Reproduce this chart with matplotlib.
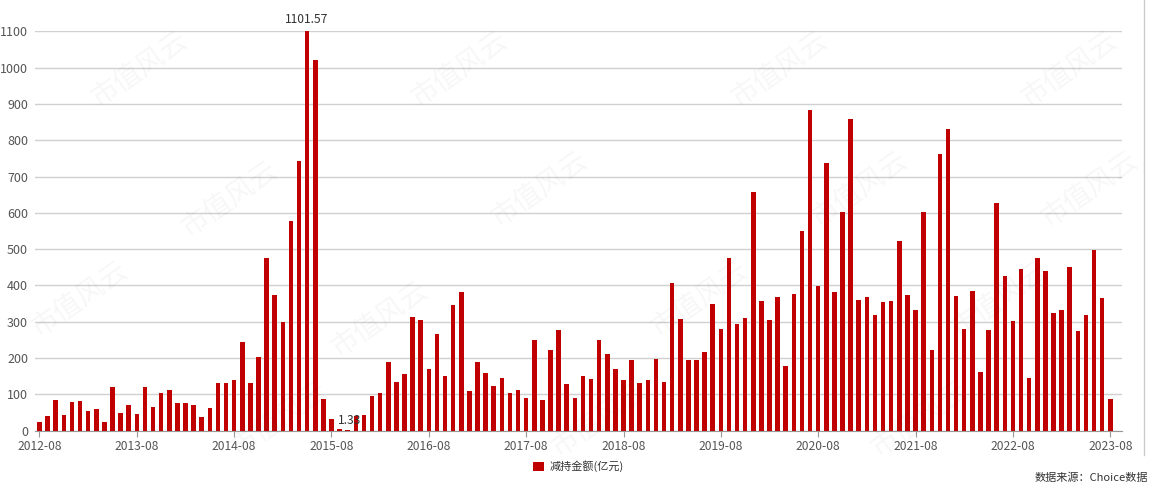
import matplotlib
matplotlib.use("Agg")
import matplotlib.pyplot as plt
from matplotlib.lines import Line2D
import numpy as np

plt.rcParams['font.family'] = ['Noto Sans CJK SC', 'DejaVu Sans']

months = []
for y in range(2012, 2024):
    for m in range(1, 13):
        if (y == 2012 and m < 8) or (y == 2023 and m > 8):
            continue
        months.append(f"{y}-{m:02d}")

values = [
    25, 41, 85, 44, 79, 83, 54, 59, 25, 119, 50, 71,
    45, 119, 64, 103, 113, 77, 75, 72, 39, 62, 132, 130,
    140, 244, 130, 202, 476, 375, 299, 578, 742, 1101.57, 1020, 87,
    33, 6, 1.33, 41, 44, 95, 105, 188, 134, 155, 314, 304,
    169, 265, 152, 347, 381, 108, 190, 159, 123, 144, 104, 113,
    91, 250, 84, 221, 278, 129, 91, 150, 142, 249, 210, 169,
    141, 194, 131, 139, 198, 135, 407, 307, 196, 196, 218, 348,
    279, 477, 294, 311, 658, 357, 306, 368, 177, 377, 551, 884,
    399, 737, 381, 601, 858, 360, 367, 318, 355, 358, 522, 373,
    332, 603, 222, 762, 832, 372, 279, 384, 162, 277, 626, 425,
    302, 444, 146, 477, 441, 325, 333, 450, 274, 320, 499, 365, 88,
]
series_name = "减持金额(亿元)"
source_text = "数据来源：Choice数据"
watermark = "市值风云"
yticks = list(range(0, 1101, 100))

fig = plt.figure(figsize=(11.52, 4.91), dpi=100)
ax = fig.add_axes([35/1152, 1 - 430.7/491, (1122-35)/1152, (430.7-31.3)/491])

x = np.arange(len(values))
ax.bar(x, values, width=0.56, color='#C00000', zorder=3, label=series_name, clip_on=False)

ax.set_xlim(-0.55, len(values) + 0.45)
ax.set_ylim(0, 1100)
ax.set_yticks(yticks)
ax.set_yticklabels([str(v) for v in yticks], fontsize=9, color='#555555')
ax.yaxis.grid(True, color='#d0d0d0', linewidth=1, zorder=0)
ax.tick_params(axis='y', length=0, pad=5)

tick_pos = [i for i, m in enumerate(months) if m.endswith('-08')]
ax.set_xticks(tick_pos)
ax.set_xticklabels([months[i] for i in tick_pos], fontsize=8.7, color='#555555')
ax.tick_params(axis='x', length=4, color='#999999', pad=3)

for s in ['top', 'right', 'left']:
    ax.spines[s].set_visible(False)
ax.spines['bottom'].set_color('#999999')

imax = int(np.argmax(values))
imin = int(np.argmin(values))
ax.text(imax, values[imax] + 12, f"{values[imax]:.2f}", ha='center', va='bottom', fontsize=8.7, color='#333333')
ax.text(imin + 0.2, values[imin] + 8, f"{values[imin]:.2f}", ha='center', va='bottom', fontsize=8.7, color='#333333')

ax.legend(loc='upper center', bbox_to_anchor=(0.5, -0.05), frameon=False, fontsize=8,
          handlelength=1.0, handleheight=0.9, handletextpad=0.5, labelcolor='#333333')

fig.text(1148/1152, 1 - 478/491, source_text, ha='right', va='center', fontsize=8, color='#333333')

wm_pos = [(140, 70), (460, 70), (780, 70), (1070, 70), (230, 200), (540, 190), (860, 190), (1090, 190),
          (80, 300), (380, 320), (700, 300), (1000, 300), (280, 420), (600, 420), (920, 420)]
for (px, py) in wm_pos:
    fig.text(px/1152, 1 - py/491, watermark, fontsize=20, color='#000000', alpha=0.035,
             rotation=35, ha='center', va='center', zorder=0)

fig.add_artist(Line2D([1144/1152, 1144/1152], [1 - 455/491, 1.0], color='#cccccc', linewidth=1))

fig.savefig("out.png", dpi=100)
